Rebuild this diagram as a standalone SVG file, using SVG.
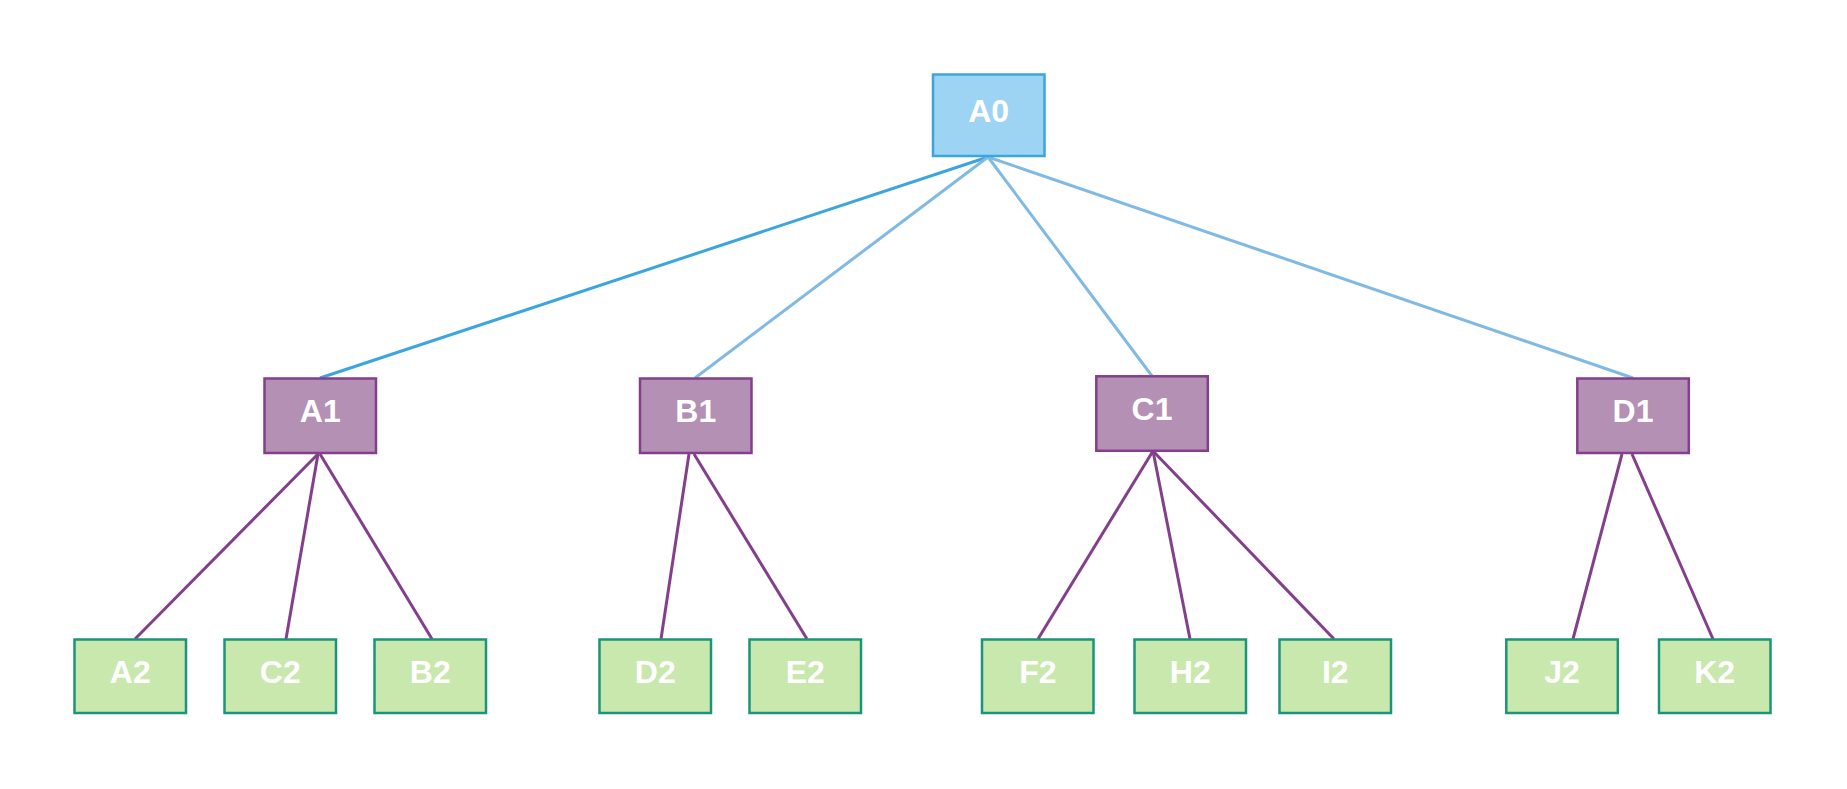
<svg xmlns="http://www.w3.org/2000/svg" width="1847" height="789" viewBox="0 0 1847 789">
  <style>
    .root rect { fill: #9dd3f3; stroke: #3ba5dd; stroke-width: 2.5; }
    .mid rect { fill: #b390b4; stroke: #833f8c; stroke-width: 2.5; }
    .leaf rect { fill: #c8e8ad; stroke: #1b957a; stroke-width: 2.5; }
    text { font-family: "Liberation Sans", Arial, sans-serif; font-weight: bold; font-size: 32px; fill: #ffffff; text-anchor: middle; }
    .edges line { stroke-width: 3; stroke-linecap: butt; }
    .e-top { stroke: #3ba5dd; }
    .e-root { stroke: #80bae4; }
    .e-mid { stroke: #833f8c; }
  </style>
  <rect width="1847" height="789" fill="#ffffff"/>

  <g id="connectors" class="edges">
    <line class="e-top" x1="988" y1="157" x2="320" y2="378"/>
    <line class="e-root" x1="988" y1="157" x2="695" y2="378"/>
    <line class="e-root" x1="988" y1="157" x2="1152" y2="376"/>
    <line class="e-root" x1="988" y1="157" x2="1633" y2="378"/>

    <line class="e-mid" x1="318" y1="454" x2="135" y2="639"/>
    <line class="e-mid" x1="318" y1="454" x2="286" y2="639"/>
    <line class="e-mid" x1="320" y1="454" x2="432" y2="639"/>

    <line class="e-mid" x1="689" y1="454" x2="661" y2="639"/>
    <line class="e-mid" x1="694" y1="454" x2="807" y2="639"/>

    <line class="e-mid" x1="1153" y1="451" x2="1038" y2="639"/>
    <line class="e-mid" x1="1153" y1="451" x2="1190" y2="639"/>
    <line class="e-mid" x1="1153" y1="451" x2="1334" y2="639"/>

    <line class="e-mid" x1="1622" y1="454" x2="1573" y2="639"/>
    <line class="e-mid" x1="1632" y1="454" x2="1713" y2="639"/>
  </g>

  <g id="A0" class="root">
    <rect x="933" y="74.5" width="111.5" height="81.5"/>
    <text x="988.7" y="122">A0</text>
  </g>

  <g id="A1" class="mid">
    <rect x="264.5" y="378.5" width="111.5" height="74.5"/>
    <text x="320.3" y="422">A1</text>
  </g>
  <g id="B1" class="mid">
    <rect x="640" y="378.5" width="111.5" height="74.5"/>
    <text x="695.8" y="422">B1</text>
  </g>
  <g id="C1" class="mid">
    <rect x="1096.3" y="376.3" width="111.5" height="74.5"/>
    <text x="1152" y="419.5">C1</text>
  </g>
  <g id="D1" class="mid">
    <rect x="1577.3" y="378.5" width="111.5" height="74.5"/>
    <text x="1633" y="422">D1</text>
  </g>

  <g id="A2" class="leaf">
    <rect x="74.5" y="639.5" width="111.5" height="73.5"/>
    <text x="130.3" y="683">A2</text>
  </g>
  <g id="C2" class="leaf">
    <rect x="224.5" y="639.5" width="111.5" height="73.5"/>
    <text x="280.3" y="683">C2</text>
  </g>
  <g id="B2" class="leaf">
    <rect x="374.5" y="639.5" width="111.5" height="73.5"/>
    <text x="430.3" y="683">B2</text>
  </g>
  <g id="D2" class="leaf">
    <rect x="599.5" y="639.5" width="111.5" height="73.5"/>
    <text x="655.3" y="683">D2</text>
  </g>
  <g id="E2" class="leaf">
    <rect x="749.5" y="639.5" width="111.5" height="73.5"/>
    <text x="805.3" y="683">E2</text>
  </g>
  <g id="F2" class="leaf">
    <rect x="982" y="639.5" width="111.5" height="73.5"/>
    <text x="1037.8" y="683">F2</text>
  </g>
  <g id="H2" class="leaf">
    <rect x="1134.5" y="639.5" width="111.5" height="73.5"/>
    <text x="1190.3" y="683">H2</text>
  </g>
  <g id="I2" class="leaf">
    <rect x="1279.5" y="639.5" width="111.5" height="73.5"/>
    <text x="1335.3" y="683">I2</text>
  </g>
  <g id="J2" class="leaf">
    <rect x="1506.3" y="639.5" width="111.5" height="73.5"/>
    <text x="1562" y="683">J2</text>
  </g>
  <g id="K2" class="leaf">
    <rect x="1659" y="639.5" width="111.5" height="73.5"/>
    <text x="1714.7" y="683">K2</text>
  </g>
</svg>
